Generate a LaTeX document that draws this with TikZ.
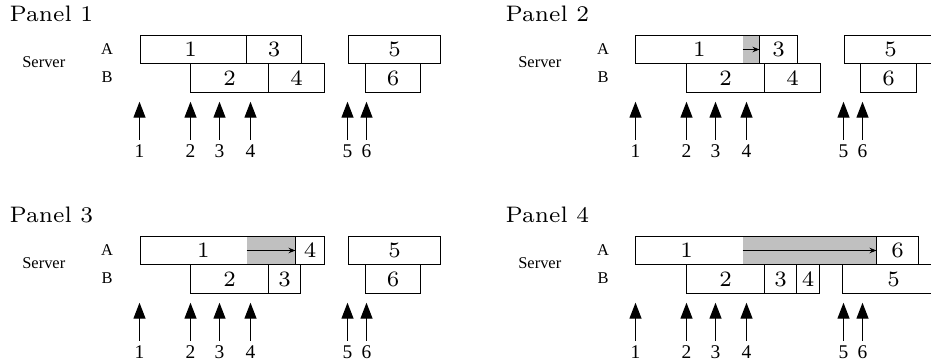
\documentclass[tikz,border=0pt]{standalone}
\usepackage{fontspec}
\newfontfamily\tms{Liberation Serif}
\newfontfamily\lmseven{lmroman7-regular.otf}
\usetikzlibrary{arrows.meta}
\definecolor{shadegray}{RGB}{192,192,192}
\tikzset{
 box/.style={draw, line width=1.1bp, rectangle, inner sep=0pt, outer sep=0pt, font=\lmseven\fontsize{22}{26}\selectfont},
 numtext/.style={inner sep=0pt, font=\lmseven\fontsize{22}{26}\selectfont},
 shadebox/.style={fill=shadegray, draw=none, rectangle, inner sep=0pt, outer sep=0pt},
 paneltitle/.style={anchor=base west, inner sep=0pt, font=\lmseven\fontsize{22.5}{26}\selectfont},
 side/.style={anchor=base, inner sep=0pt, font=\tms\fontsize{16.5}{20}\selectfont},
 tlabel/.style={inner sep=1.5bp, font=\tms\fontsize{19.5}{22}\selectfont},
 bigarrow/.style={line width=1.3bp, shorten <=3bp, -{Triangle[width=12bp,length=16bp]}},
 movearrow/.style={line width=1bp, -{Stealth[width=5.5bp,length=7bp]}},
}
% box in row A / row B: name, x1, x2, text
\newcommand\bxA[4]{\node[box, minimum width={#3bp-#2bp}, minimum height=28bp] (#1) at ({(#2+#3)/2},49.5) {#4};}
\newcommand\bxB[4]{\node[box, minimum width={#3bp-#2bp}, minimum height=29bp] (#1) at ({(#2+#3)/2},78) {#4};}
\newcommand\shA[3]{\node[shadebox, minimum width={#3bp-#2bp}, minimum height=28bp] (#1) at ({(#2+#3)/2},49.5) {};}
\newcommand\panelcommon[1]{%
 \node[paneltitle] (p#1-title) at (9.5,21.4) {Panel #1};
 \node[side] (p#1-server) at (43.8,67.3) {Server};
 \node[side] (p#1-A) at (107,54) {A};
 \node[side] (p#1-B) at (107,82.3) {B};
 \foreach \i/\x in {1/139.5,2/190.5,3/219.5,4/250.5,5/347.5,6/366.5}{
   \coordinate (p#1-h\i) at (\x,101.7);
   \node[tlabel] (p#1-n\i) at (\x,151) {\i};
   \draw[bigarrow] (p#1-n\i) -- (p#1-h\i);
 }
}
\begin{document}
\begin{tikzpicture}[x=1bp,y=-1bp]
\useasboundingbox (0,0) rectangle (931,362);
\clip (0,0) rectangle (931,362);
% Panel 1
\begin{scope}
 \panelcommon{1}
 \bxA{p1-b1}{140.5}{246.5}{}
 \node[numtext] (p1-l1) at (190.7,49.5) {1};
 \bxA{p1-b3}{246.5}{301.5}{3}
 \bxB{p1-b2}{190.5}{268.5}{2}
 \bxB{p1-b4}{268.5}{324.5}{4}
 \bxA{p1-b5}{348.5}{440.5}{5}
 \bxB{p1-b6}{365.5}{420.5}{6}
\end{scope}
% Panel 2
\begin{scope}[shift={(496,0)}]
 \panelcommon{2}
 \shA{p2-g}{246.5}{263.5}
 \bxA{p2-b1}{139.5}{263.5}{}
 \node[numtext] (p2-l1) at (203.3,49.5) {1};
 \draw[movearrow] (p2-g.west) -- (p2-g.east);
 \bxA{p2-b3}{263.5}{301.5}{3}
 \bxB{p2-b2}{190.5}{268.5}{2}
 \bxB{p2-b4}{268.5}{324.5}{4}
 \bxA{p2-b5}{348.5}{440.5}{5}
 \bxB{p2-b6}{364.5}{420.5}{6}
\end{scope}
% Panel 3
\begin{scope}[shift={(0,201)}]
 \panelcommon{3}
 \shA{p3-g}{246.5}{295.5}
 \bxA{p3-b1}{140.5}{295.5}{}
 \node[numtext] (p3-l1) at (203.3,49.5) {1};
 \draw[movearrow] (p3-g.west) -- (p3-g.east);
 \bxA{p3-b4}{295.5}{324.5}{4}
 \bxB{p3-b2}{190.5}{268.5}{2}
 \bxB{p3-b3}{268.5}{300.5}{3}
 \bxA{p3-b5}{348.5}{440.5}{5}
 \bxB{p3-b6}{365.5}{420.5}{6}
\end{scope}
% Panel 4
\begin{scope}[shift={(496,201)}]
 \panelcommon{4}
 \shA{p4-g}{246.5}{380.5}
 \bxA{p4-b1}{139.5}{380.5}{}
 \node[numtext] (p4-l1) at (190.7,49.5) {1};
 \draw[movearrow] (p4-g.west) -- (p4-g.east);
 \bxA{p4-b6}{380.5}{422.5}{6}
 \bxB{p4-b2}{190.5}{268.5}{2}
 \bxB{p4-b3}{268.5}{300.5}{3}
 \bxB{p4-b4}{300.5}{323.5}{4}
 \bxB{p4-b5}{346.5}{448.5}{5}
\end{scope}
\end{tikzpicture}
\end{document}
